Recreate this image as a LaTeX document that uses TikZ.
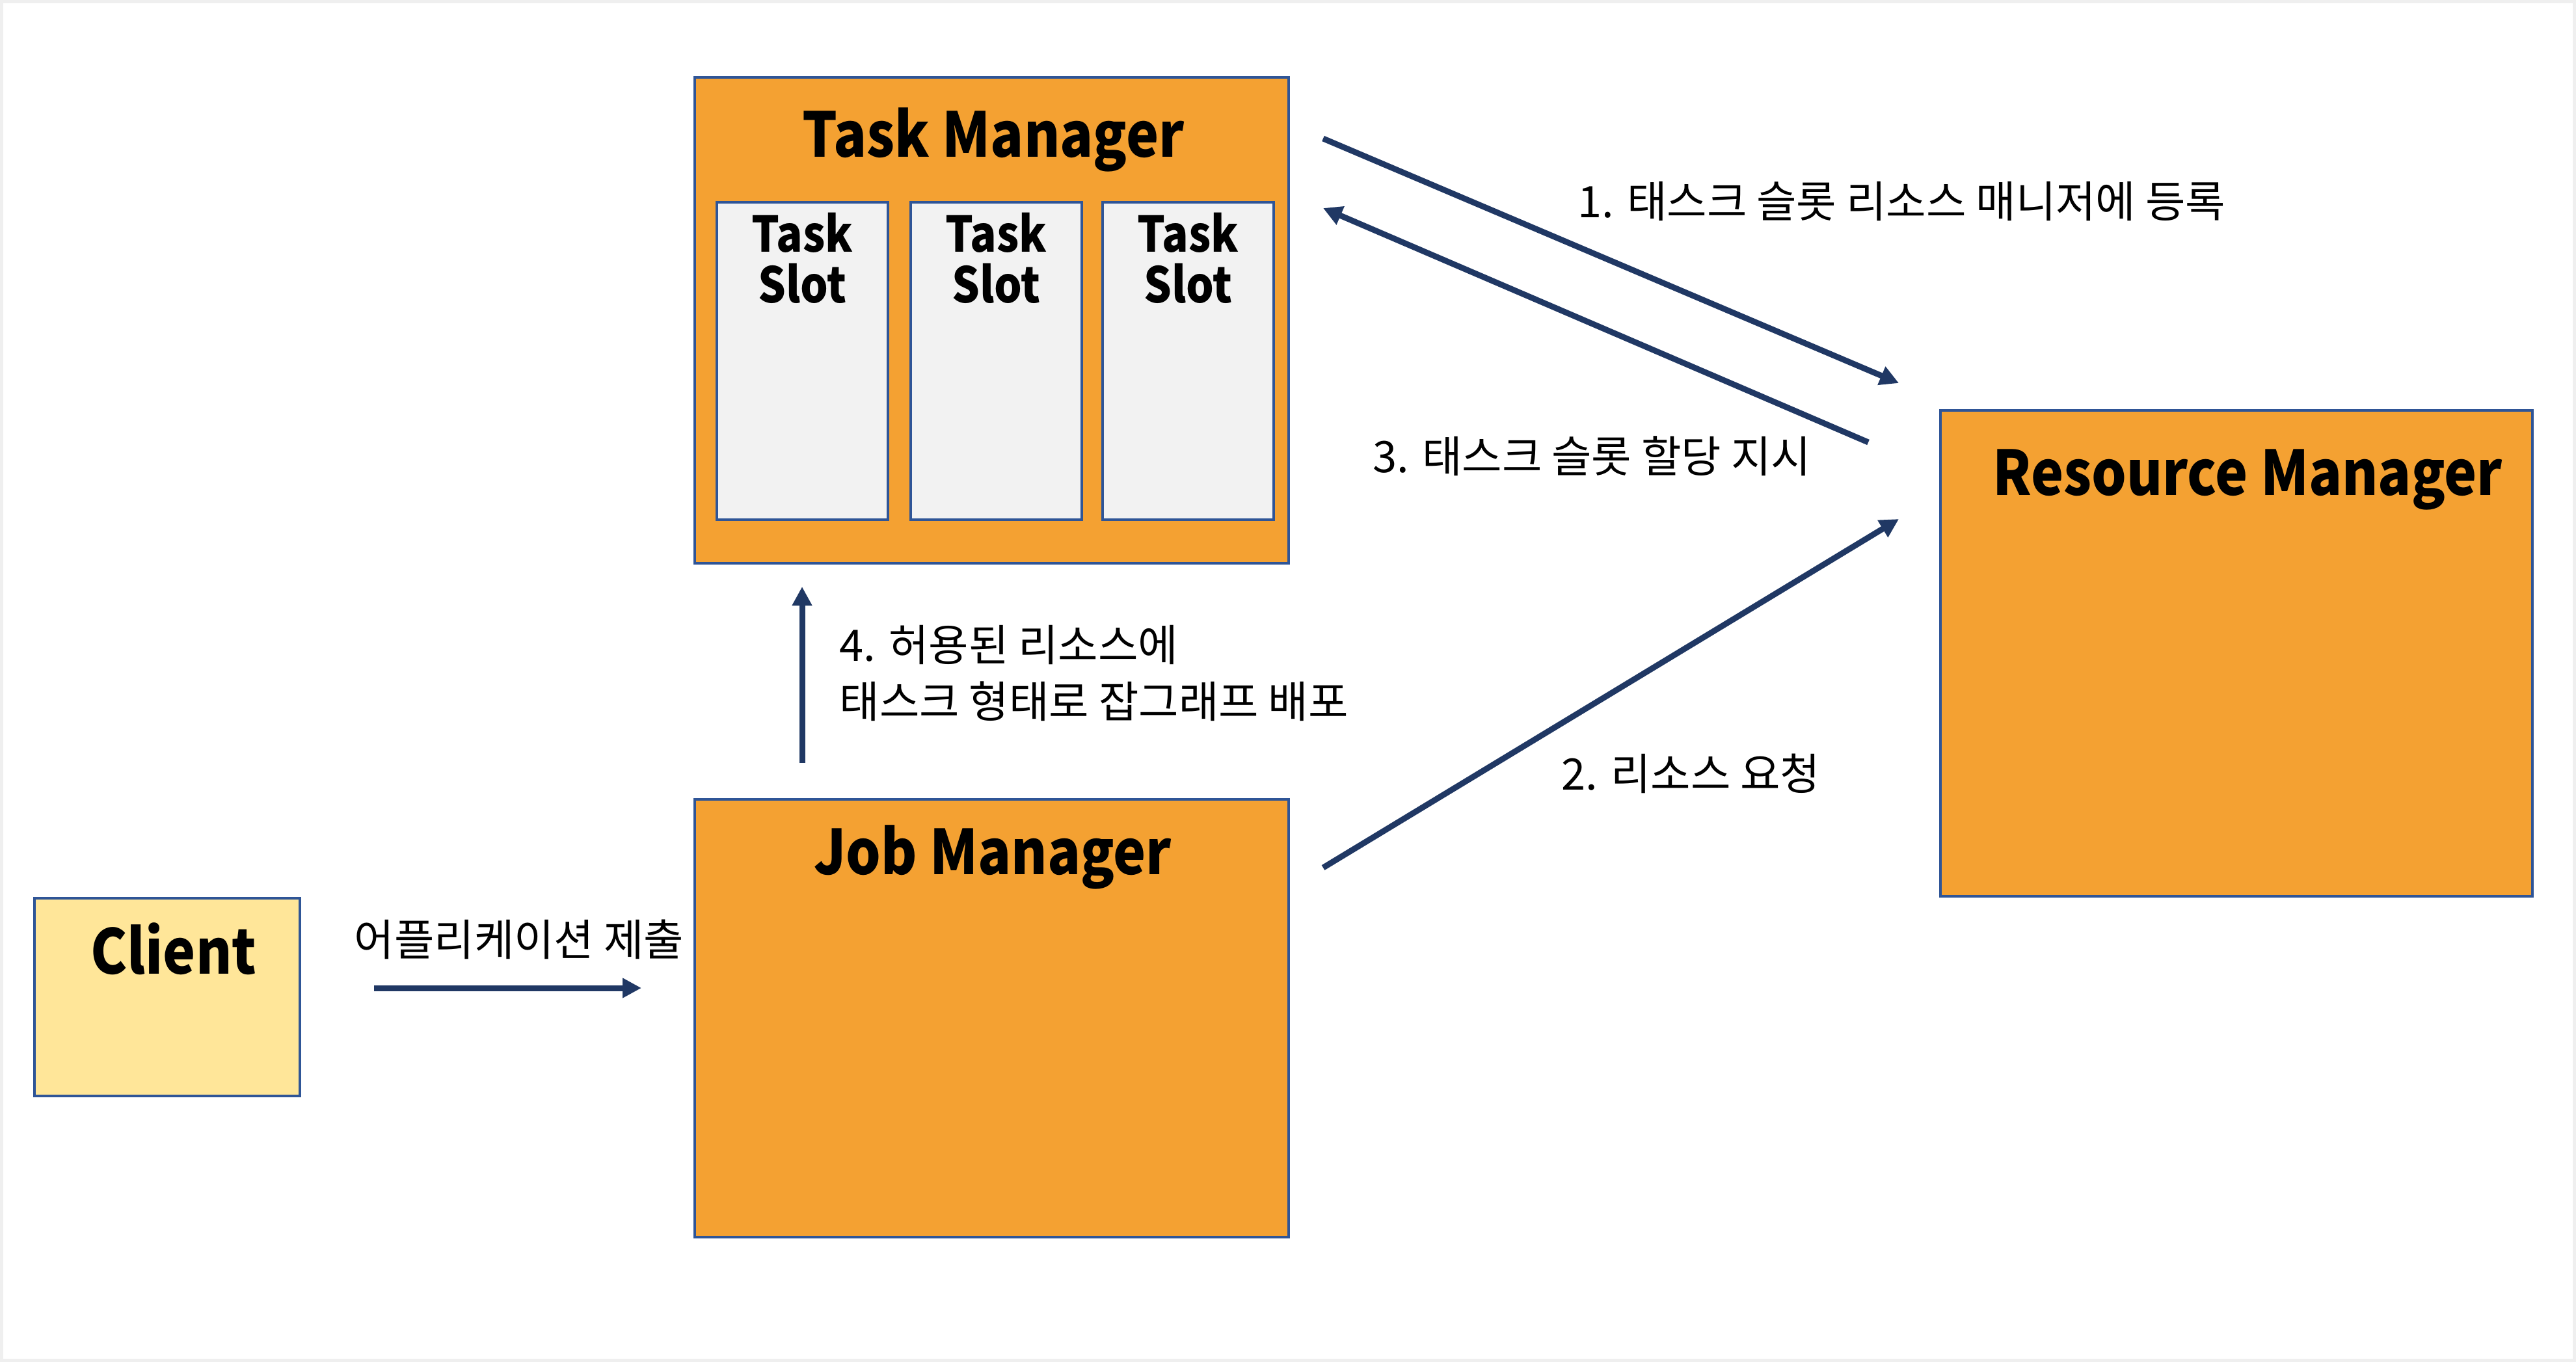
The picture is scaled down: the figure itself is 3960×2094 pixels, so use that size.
\documentclass[tikz,border=0pt]{standalone}
\usepackage{fontspec}
\setmainfont{Noto Sans CJK KR}
\newfontfamily\headfont{Noto Sans CJK KR}[FakeStretch=0.89]
\usepackage{tikz}
\usetikzlibrary{arrows.meta}
\definecolor{mgrorange}{HTML}{F4A132}
\definecolor{mgrborder}{HTML}{2F5597}
\definecolor{flowblue}{HTML}{203864}
\definecolor{clientyellow}{HTML}{FFE699}
\definecolor{slotgray}{HTML}{F2F2F2}
\definecolor{framegray}{HTML}{EFEFEF}
\tikzset{
  mgrbox/.style={draw=mgrborder, line width=0.45mm, fill=mgrorange, inner sep=0pt},
  slotbox/.style={draw=mgrborder, line width=0.45mm, fill=slotgray, inner sep=0pt, minimum width=26.3mm, minimum height=48.8mm},
  title/.style={font=\headfont\fontsize{27}{30}\selectfont\bfseries, inner sep=0pt, anchor=base},
  slottext/.style={font=\headfont\fontsize{21.5}{22}\selectfont\bfseries, inner sep=0pt, align=center, anchor=base},
  steplabel/.style={font=\fontsize{19}{25}\selectfont, inner sep=0pt, anchor=west, align=left},
  flow/.style={draw=flowblue, line width=0.9mm, -{Triangle[length=2.9mm,width=2.9mm]}}
}

\begin{document}
\begin{tikzpicture}[x=0.1mm, y=-0.1mm]
\useasboundingbox (0,0) rectangle (3960,2094);
\fill[framegray] (0,0) rectangle (3960,2094);
\fill[white] (5,5) rectangle (3955,2089);
\coordinate (a0s) at (575,1519);
\coordinate (a0e) at (986,1519);
\coordinate (a1s) at (2034,213);
\coordinate (a1e) at (2919,589);
\coordinate (a3s) at (2872,680);
\coordinate (a3e) at (2034,320);
\coordinate (a2s) at (2034,1334);
\coordinate (a2e) at (2919,798);
\coordinate (a4s) at (1233,1173);
\coordinate (a4e) at (1233,902);
 \node[mgrbox, fill=clientyellow, minimum width=40.8mm, minimum height=30.4mm] (client) at (257,1533) {};
 \node[mgrbox, minimum width=91.3mm, minimum height=74.7mm] (tm) at (1524.5,492.5) {};
 \node[mgrbox, minimum width=91.3mm, minimum height=67.3mm] (jm) at (1524.5,1565.5) {};
 \node[mgrbox, minimum width=91.0mm, minimum height=74.7mm] (rm) at (3438,1004.5) {};
 \node[slotbox] (slot1) at (1233.5,555) {};
 \node[slotbox] (slot2) at (1531.5,555) {};
 \node[slotbox] (slot3) at (1826.5,555) {};
 \node[title] (clientt) at (267,1497) {Client};
 \node[title] (tmt) at (1527,242) {Task Manager};
 \node[title] (jmt) at (1526,1344) {Job Manager};
 \node[title] (rmt) at (3455,761) {Resource Manager};
 \node[slottext] (slot1t) at (1233.5,465) {Task\\Slot};
 \node[slottext] (slot2t) at (1531.5,465) {Task\\Slot};
 \node[slottext] (slot3t) at (1826.5,465) {Task\\Slot};
 \draw[flow] (a0s) -- (a0e);
 \draw[flow] (a1s) -- (a1e);
 \draw[flow] (a3s) -- (a3e);
 \draw[flow] (a2s) -- (a2e);
 \draw[flow] (a4s) -- (a4e);
 \node[steplabel] (l0) at (544,1444) {어플리케이션 제출};
 \node[steplabel] (l1) at (2425,310) {1. 태스크 슬롯 리소스 매니저에 등록};
 \node[steplabel] (l3) at (2110,701) {3. 태스크 슬롯 할당 지시};
 \node[steplabel] (l2) at (2400,1189) {2. 리소스 요청};
 \node[steplabel] (l4) at (1290,1035) {4. 허용된 리소스에\\태스크 형태로 잡그래프 배포};
\end{tikzpicture}
\end{document}
